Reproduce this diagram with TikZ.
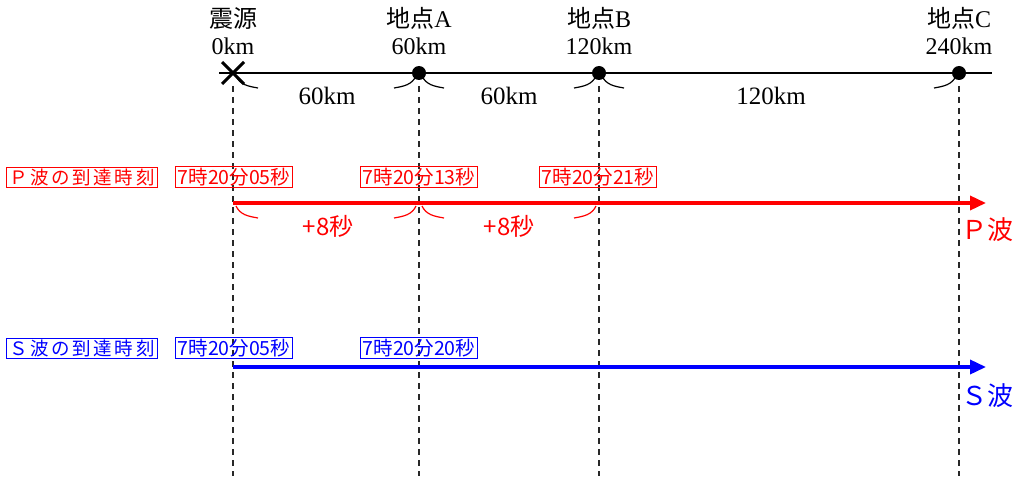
\documentclass[tikz,border=0pt]{standalone}
\usepackage{fontspec}
\setmainfont{Liberation Serif}
\newfontfamily\jp{Noto Sans CJK JP}
\newfontfamily\jpw[LetterSpace=14]{Noto Sans CJK JP}
\usetikzlibrary{arrows.meta,shapes.misc,calc}
\definecolor{dgray}{RGB}{40,40,40}
\tikzset{
  toplab/.style={align=center, font=\fontsize{24}{27}\selectfont, inner sep=0pt},
  distlab/.style={font=\fontsize{25}{28}\selectfont, inner sep=0pt},
  guide/.style={dgray, dashed, line width=1.4pt, dash pattern=on 6pt off 5pt},
  dot/.style={circle, fill=black, inner sep=0pt, minimum size=14pt},
  timebox/.style={draw, line width=0.9pt, font=\jp\fontsize{19.5}{21}\selectfont, inner xsep=2pt, inner ysep=1.5pt},
  namebox/.style={draw, line width=0.9pt, font=\jpw\fontsize{18.5}{21}\selectfont, inner xsep=3pt, inner ysep=1.5pt},
  brace/.style={line width=1.2pt},
  wave/.style={line width=3.5pt, -{Triangle[length=16pt,width=14pt]}},
  wavelab/.style={font=\jp\fontsize{26}{28}\selectfont, inner sep=0pt},
  difflab/.style={font=\jp\fontsize{24}{26}\selectfont, inner sep=0pt}
}
\newcommand{\rarc}[2][black]{\draw[brace,#1] ($(#2)+(3,-3)$) to[out=-65,in=170] ($(#2)+(25,-15)$);}
\newcommand{\larc}[2][black]{\draw[brace,#1] ($(#2)+(-3,-3)$) to[out=-115,in=10] ($(#2)+(-25,-15)$);}
\begin{document}
\begin{tikzpicture}[x=1pt,y=1pt]
\useasboundingbox (0,0) rectangle (1024,-476);
% axis points
\coordinate (p0) at (233,-73);
\coordinate (pA) at (419,-73);
\coordinate (pB) at (599,-73);
\coordinate (pC) at (959,-73);
\coordinate (axL) at (219,-73);
\coordinate (axR) at (992,-73);
% guides
\coordinate (g0) at (233,-86); \coordinate (b0) at (233,-476);
\coordinate (gA) at (419,-86); \coordinate (bA) at (419,-476);
\coordinate (gB) at (599,-86); \coordinate (bB) at (599,-476);
\coordinate (gC) at (959,-86); \coordinate (bC) at (959,-476);
\draw[guide] (g0) -- (b0);
\draw[guide] (gA) -- (bA);
\draw[guide] (gB) -- (bB);
\draw[guide] (gC) -- (bC);
% axis
\draw[line width=1.5pt] (axL) -- (axR);
\node[cross out, draw, line width=3pt, minimum size=19pt, inner sep=0pt] (x0) at (p0) {};
\node[dot] (dA) at (pA) {};
\node[dot] (dB) at (pB) {};
\node[dot] (dC) at (pC) {};
% top labels
\node[toplab] (t0) at (233,-31) {{\jp 震源}\\0km};
\node[toplab] (tA) at (419,-31) {{\jp 地点}A\\60km};
\node[toplab] (tB) at (599,-31) {{\jp 地点}B\\120km};
\node[toplab] (tC) at (959,-31) {{\jp 地点}C\\240km};
% distance braces
\rarc{p0}
\larc{pA}\rarc{pA}
\larc{pB}\rarc{pB}
\larc{pC}
\node[distlab] (d1) at (327,-96) {60km};
\node[distlab] (d2) at (509,-96) {60km};
\node[distlab] (d3) at (771,-96) {120km};
% P wave
\coordinate (P0) at (233,-203);
\coordinate (PA) at (419,-203);
\coordinate (PB) at (599,-203);
\coordinate (Pend) at (986,-203);
\node[namebox, red] (pname) at (82,-177) {Ｐ波の到達時刻};
\node[timebox, red] (pt0) at (234,-177) {7時20分05秒};
\node[timebox, red] (ptA) at (419,-177) {7時20分13秒};
\node[timebox, red] (ptB) at (598,-177) {7時20分21秒};
\draw[wave, red] (P0) -- (Pend);
\rarc[red]{P0}
\larc[red]{PA}\rarc[red]{PA}
\larc[red]{PB}
\node[difflab, red] (pd1) at (328,-226) {+8秒};
\node[difflab, red] (pd2) at (509,-226) {+8秒};
\node[wavelab, red, anchor=west] (plab) at (961,-230) {Ｐ波};
% S wave
\coordinate (S0) at (233,-367);
\coordinate (Send) at (986,-367);
\node[namebox, blue] (sname) at (82,-348) {Ｓ波の到達時刻};
\node[timebox, blue] (st0) at (234,-348) {7時20分05秒};
\node[timebox, blue] (stA) at (419,-348) {7時20分20秒};
\draw[wave, blue] (S0) -- (Send);
\node[wavelab, blue, anchor=west] (slab) at (961,-396) {Ｓ波};
\end{tikzpicture}
\end{document}
